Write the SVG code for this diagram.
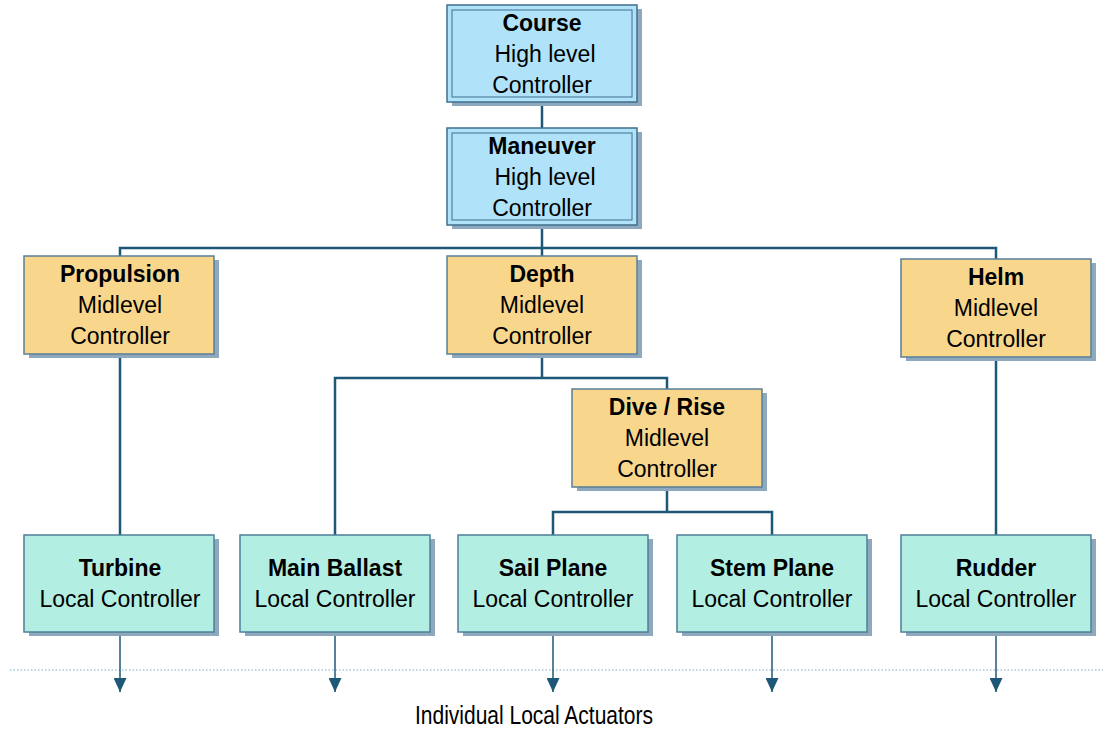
<svg xmlns="http://www.w3.org/2000/svg" width="1103" height="730" viewBox="0 0 1103 730">
  <style>
    text { font-family: "Liberation Sans", Arial, sans-serif; font-size: 23px; fill: #000; text-anchor: middle; }
    .b { font-weight: bold; }
    .shadow { fill: #8ea9bd; }
    .high { fill: #b0e3fa; stroke: #3f6f8c; stroke-width: 1.5; }
    .inner { fill: none; stroke: #3f6f8c; stroke-width: 1; }
    .mid { fill: #f8d78d; stroke: #5a7f98; stroke-width: 1.5; }
    .local { fill: #b3eee2; stroke: #4f7f98; stroke-width: 1.5; }
    .wire { fill: none; stroke: #1e5878; stroke-width: 2.5; }
    .out { fill: none; stroke: #1e5878; stroke-width: 1.5; }
    .note { font-size: 25px; }
  </style>
  <defs>
    <!-- filled triangle, drawn along +x so orient="auto" points it down the line -->
    <marker id="tip" viewBox="0 0 14 13" refX="14" refY="6.5" markerWidth="14" markerHeight="13" markerUnits="userSpaceOnUse" orient="auto">
      <path d="M0,0 L14,6.5 L0,13 Z" fill="#1e5878"/>
    </marker>
  </defs>
  <rect width="1103" height="730" fill="#fff"/>

  <!-- baseline of the actuators -->
  <line x1="10" y1="670" x2="1103" y2="670" stroke="#7fa9c2" stroke-width="1" stroke-dasharray="1.5,2"/>

  <g id="connectors">
    <path class="wire" d="M542,102 V128"/>
    <path class="wire" d="M542,225 V256"/>
    <path class="wire" d="M120,256 V248 H996 V259"/>
    <path class="wire" d="M120,354 V535"/>
    <path class="wire" d="M996,357 V535"/>
    <path class="wire" d="M335,535 V378 H667 V389"/>
    <path class="wire" d="M542,354 V378"/>
    <path class="wire" d="M553,535 V512 H772 V535"/>
    <path class="wire" d="M667,487 V512"/>
    <path class="out" d="M120,632 V692" marker-end="url(#tip)"/>
    <path class="out" d="M335,632 V692" marker-end="url(#tip)"/>
    <path class="out" d="M553,632 V692" marker-end="url(#tip)"/>
    <path class="out" d="M772,632 V692" marker-end="url(#tip)"/>
    <path class="out" d="M996,632 V692" marker-end="url(#tip)"/>
  </g>

  <g id="course">
    <rect class="shadow" x="452" y="9" width="190" height="97"/>
    <rect class="high" x="447" y="5" width="190" height="97"/>
    <rect class="inner" x="452" y="10" width="180" height="87"/>
    <text class="b" x="542" y="31">Course</text>
    <text x="545" y="62">High level</text>
    <text x="542" y="93">Controller</text>
  </g>

  <g id="maneuver">
    <rect class="shadow" x="452" y="132" width="190" height="97"/>
    <rect class="high" x="447" y="128" width="190" height="97"/>
    <rect class="inner" x="452" y="133" width="180" height="87"/>
    <text class="b" x="542" y="154">Maneuver</text>
    <text x="545" y="185">High level</text>
    <text x="542" y="216">Controller</text>
  </g>

  <g id="propulsion">
    <rect class="shadow" x="29" y="260" width="190" height="98"/>
    <rect class="mid" x="24" y="256" width="190" height="98"/>
    <text class="b" x="120" y="282">Propulsion</text>
    <text x="120" y="313">Midlevel</text>
    <text x="120" y="344">Controller</text>
  </g>

  <g id="depth">
    <rect class="shadow" x="452" y="260" width="190" height="98"/>
    <rect class="mid" x="447" y="256" width="190" height="98"/>
    <text class="b" x="542" y="282">Depth</text>
    <text x="542" y="313">Midlevel</text>
    <text x="542" y="344">Controller</text>
  </g>

  <g id="helm">
    <rect class="shadow" x="906" y="263" width="190" height="98"/>
    <rect class="mid" x="901" y="259" width="190" height="98"/>
    <text class="b" x="996" y="285">Helm</text>
    <text x="996" y="316">Midlevel</text>
    <text x="996" y="347">Controller</text>
  </g>

  <g id="dive-rise">
    <rect class="shadow" x="577" y="393" width="190" height="98"/>
    <rect class="mid" x="572" y="389" width="190" height="98"/>
    <text class="b" x="667" y="415">Dive / Rise</text>
    <text x="667" y="446">Midlevel</text>
    <text x="667" y="477">Controller</text>
  </g>

  <g id="turbine">
    <rect class="shadow" x="29" y="539" width="190" height="97"/>
    <rect class="local" x="24" y="535" width="190" height="97"/>
    <text class="b" x="120" y="576">Turbine</text>
    <text x="120" y="607">Local Controller</text>
  </g>

  <g id="main-ballast">
    <rect class="shadow" x="245" y="539" width="190" height="97"/>
    <rect class="local" x="240" y="535" width="190" height="97"/>
    <text class="b" x="335" y="576">Main Ballast</text>
    <text x="335" y="607">Local Controller</text>
  </g>

  <g id="sail-plane">
    <rect class="shadow" x="463" y="539" width="190" height="97"/>
    <rect class="local" x="458" y="535" width="190" height="97"/>
    <text class="b" x="553" y="576">Sail Plane</text>
    <text x="553" y="607">Local Controller</text>
  </g>

  <g id="stem-plane">
    <rect class="shadow" x="682" y="539" width="190" height="97"/>
    <rect class="local" x="677" y="535" width="190" height="97"/>
    <text class="b" x="772" y="576">Stem Plane</text>
    <text x="772" y="607">Local Controller</text>
  </g>

  <g id="rudder">
    <rect class="shadow" x="906" y="539" width="190" height="97"/>
    <rect class="local" x="901" y="535" width="190" height="97"/>
    <text class="b" x="996" y="576">Rudder</text>
    <text x="996" y="607">Local Controller</text>
  </g>

  <text class="note" x="534" y="724" textLength="238" lengthAdjust="spacingAndGlyphs">Individual Local Actuators</text>
</svg>
